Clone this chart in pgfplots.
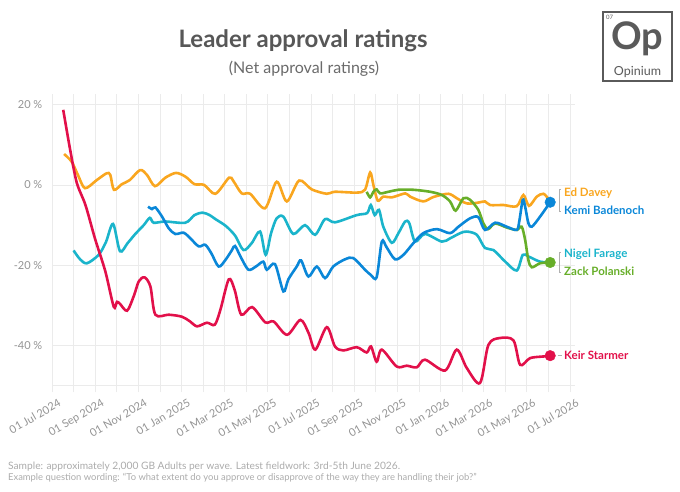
\documentclass[border=0pt]{standalone}
\usepackage{fontspec}
\setmainfont{Lato}
\usepackage{pgfplots}
\pgfplotsset{compat=1.18}
\definecolor{starmer}{HTML}{E2104A}
\definecolor{davey}{HTML}{F9A61F}
\definecolor{badenoch}{HTML}{0A87D8}
\definecolor{farage}{HTML}{1AB4CB}
\definecolor{polanski}{HTML}{67AE29}
\definecolor{gridc}{HTML}{EBEBEB}
\definecolor{tickc}{HTML}{939393}
\definecolor{titlec}{HTML}{575757}
\definecolor{subc}{HTML}{6A6A6A}
\definecolor{footc}{HTML}{ABABAB}
\definecolor{logoc}{HTML}{5A5A5A}
\definecolor{brc}{HTML}{B0B0B0}
\begin{document}
\begin{tikzpicture}[x=1pt,y=1pt]
\begin{axis}[
  at={(52pt,106.2pt)}, anchor=south west,
  scale only axis, width=523pt, height=285.2pt,
  xmin=0, xmax=24.23, ymin=-50, ymax=21,
  axis line style={draw=none},
  xtick={0,2,...,24}, minor xtick={1,3,...,23},
  xticklabels={01 Jul 2024,01 Sep 2024,01 Nov 2024,01 Jan 2025,01 Mar 2025,01 May 2025,01 Jul 2025,01 Sep 2025,01 Nov 2025,01 Jan 2026,01 Mar 2026,01 May 2026,01 Jul 2026},
  ytick={-50,-40,-20,0,20}, yticklabels={,-40 \%,-20 \%,0 \%,20 \%},
  xmajorgrids, xminorgrids, ymajorgrids,
  major grid style={gridc, line width=0.8pt},
  minor grid style={gridc, line width=0.8pt},
  tick align=outside, major tick length=6.5pt, minor tick length=6.5pt,
  xtick style={gridc, line width=0.8pt},
  ytick style={draw=none},
  xticklabel style={rotate=30, anchor=north east, font=\fontsize{11}{13}\selectfont, text=tickc, inner sep=1pt, xshift=3pt, yshift=-7pt},
  yticklabel style={anchor=east, font=\fontsize{11}{13}\selectfont, text=tickc, inner sep=1pt, xshift=-2pt},
  clip=false,
]
% Ed Davey
\addplot[davey, line width=2.6pt, smooth] coordinates {
(0.56,7.7) (0.91,5.8) (1.2,2.5) (1.53,-0.8) (2.07,1.2) (2.53,2.9) (2.7,2.5) (2.87,-1.2) (3.24,0.2) (3.6,1.2) (4.08,3.7) (4.4,2.5) (4.77,-0.3) (5.25,1.8) (5.75,3.0) (6.2,2.0) (6.6,0.2) (7.05,0) (7.57,-2.2) (8.2,1.8) (8.4,1.0) (8.79,-2.1) (9.18,-2.2) (9.87,-5.8) (10.41,0.8) (10.88,-4.1) (11.45,1.1) (12.03,-1.1) (12.73,-2.2) (13.11,-1.7) (14.12,-1.9) (14.5,-1.2) (14.74,3.1) (14.89,0) (15.09,-3.9) (15.35,-2.9) (15.74,-3.1) (16.36,-2.1) (16.59,-2.9) (17.2,-4.1) (17.67,-3.0) (18.36,-2.2) (18.75,-3.3) (19.22,-4.6) (19.75,-4.4) (20.06,-4.1) (20.3,-5.0) (20.92,-5.0) (21.53,-5.3) (21.84,-2.5) (22.1,-5.2) (22.46,-2.9) (22.77,-2.2) (23.0,-3.5)
};
% Nigel Farage
\addplot[farage, line width=2.6pt, smooth] coordinates {
(1.0,-16.3) (1.3,-18.5) (1.62,-19.5) (2.16,-17.4) (2.5,-14.2) (2.83,-9.7) (3.15,-16.5) (3.5,-14.5) (3.86,-12.2) (4.25,-10.0) (4.53,-8.2) (4.71,-9.4) (5.25,-9.1) (6.18,-9.4) (6.6,-7.5) (6.98,-6.9) (7.3,-7.5) (7.57,-8.5) (8.05,-10.2) (8.48,-12.6) (8.87,-16.2) (9.25,-14.5) (9.64,-11.6) (9.9,-17.4) (10.15,-12.0) (10.41,-8.3) (10.72,-7.9) (11.18,-12.2) (11.72,-10.0) (12.19,-12.4) (12.65,-8.5) (13.11,-9.3) (14.12,-7.5) (14.6,-7.0) (14.77,-5.0) (14.95,-7.5) (15.15,-6.2) (15.35,-10.4) (15.74,-14.4) (16.05,-12.0) (16.36,-9.1) (16.55,-9.5) (16.82,-14.1) (17.28,-12.2) (18.06,-14.1) (18.44,-13.3) (18.91,-12.0) (19.22,-11.6) (19.68,-12.4) (20.06,-15.7) (20.45,-16.2) (21.0,-19.1) (21.53,-21.3) (21.81,-17.4) (22.07,-17.8) (22.61,-19.1) (23.08,-19.2)
};
% Keir Starmer
\addplot[starmer, line width=2.6pt, smooth] coordinates {
(0.52,18.7) (0.85,8.5) (1.15,0.5) (1.55,-5.0) (2.0,-13.5) (2.47,-21.5) (2.86,-30.3) (3.01,-29.1) (3.15,-29.6) (3.48,-31.3) (3.8,-27.5) (4.02,-24.0) (4.29,-23.0) (4.56,-25.3) (4.79,-32.3) (5.41,-32.3) (6.02,-32.8) (6.4,-34.0) (6.72,-35.2) (7.18,-34.3) (7.54,-34.8) (7.8,-31.1) (8.19,-23.5) (8.46,-26.1) (8.77,-32.3) (9.27,-30.4) (9.88,-34.2) (10.27,-34.0) (10.89,-37.3) (11.51,-33.6) (11.89,-36.9) (12.2,-41.0) (12.73,-35.4) (13.11,-40.2) (13.5,-41.2) (14.12,-40.4) (14.58,-41.7) (14.78,-40.2) (15.04,-44.0) (15.28,-41.0) (15.97,-45.2) (16.44,-45.0) (16.9,-45.4) (17.28,-43.5) (18.21,-46.2) (18.75,-41.0) (19.22,-45.6) (19.83,-49.3) (20.22,-39.8) (20.76,-38.1) (21.38,-38.7) (21.69,-44.8) (22.15,-43.1) (22.77,-42.7) (23.08,-42.5)
};
% Zack Polanski
\addplot[polanski, line width=2.6pt, smooth] coordinates {
(14.58,-1.7) (14.74,-3.1) (14.89,-1.7) (15.04,-1.1) (15.2,-2.1) (15.59,-1.7) (16.05,-1.2) (16.74,-1.2) (17.52,-1.7) (18.06,-2.5) (18.44,-4.1) (18.7,-6.4) (19.06,-3.3) (19.37,-3.7) (19.75,-6.2) (19.98,-9.5) (20.2,-11.0) (20.53,-9.6) (21.07,-10.6) (21.53,-11.2) (21.76,-10.4) (21.92,-13.7) (22.07,-18.7) (22.23,-20.5) (22.61,-19.5) (23.08,-19.3)
};
% Kemi Badenoch
\addplot[badenoch, line width=2.6pt, smooth] coordinates {
(4.45,-5.4) (4.63,-6.0) (4.79,-5.6) (5.1,-7.9) (5.41,-10.8) (5.71,-12.2) (6.1,-11.9) (6.41,-13.3) (6.8,-15.3) (7.1,-14.9) (7.38,-17.0) (7.72,-20.3) (8.03,-18.7) (8.34,-16.2) (8.48,-15.2) (8.75,-18.0) (9.1,-21.1) (9.45,-20.3) (9.79,-19.1) (9.95,-21.1) (10.33,-19.7) (10.72,-26.5) (10.95,-23.5) (11.34,-20.3) (11.54,-18.8) (11.88,-22.8) (12.27,-20.3) (12.65,-23.2) (13.03,-20.3) (13.58,-18.5) (13.96,-18.2) (14.5,-21.1) (14.77,-22.4) (15.04,-23.0) (15.28,-14.1) (15.5,-15.5) (15.89,-18.5) (16.28,-17.4) (16.74,-14.5) (17.2,-12.0) (17.83,-11.0) (18.44,-12.0) (18.83,-10.4) (19.37,-8.3) (19.75,-8.0) (20.06,-11.2) (20.53,-9.4) (21.07,-10.4) (21.53,-11.2) (21.65,-9.0) (21.81,-3.7) (21.92,-5.4) (22.07,-9.5) (22.23,-10.4) (22.61,-7.9) (23.08,-4.3)
};
% end dots
\addplot[only marks, mark=*, mark size=5.3pt, badenoch] coordinates {(23.08,-4.3)};
\addplot[only marks, mark=*, mark size=5.3pt, polanski] coordinates {(23.08,-19.3)};
\addplot[only marks, mark=*, mark size=5.3pt, starmer] coordinates {(23.08,-42.5)};
\end{axis}
% title
\node[font=\fontsize{24}{28}\selectfont\bfseries, text=titlec] at (303,451) {Leader approval ratings};
\node[font=\fontsize{16}{19}\selectfont, text=subc] at (304,423) {(Net approval ratings)};
% logo
\draw[logoc, line width=1.6pt] (603,480) rectangle (672,411);
\node[font=\fontsize{6}{7}\selectfont, text=logoc, anchor=north west, inner sep=0] at (606,477) {07};
\node[font=\fontsize{38}{40}\selectfont\bfseries, text=logoc] at (637.5,453) {Op};
\node[font=\fontsize{12.5}{14}\selectfont, text=logoc] at (637.5,420) {Opinium};
% right labels
\begin{scope}[every node/.style={anchor=west, inner sep=0, font=\fontsize{11.5}{13}\selectfont\bfseries}]
\node[text=davey] at (564,298.5) {Ed Davey};
\node[text=badenoch] at (564,281.5) {Kemi Badenoch};
\node[text=farage] at (564,238) {Nigel Farage};
\node[text=polanski] at (564,221) {Zack Polanski};
\node[text=starmer] at (564,136.5) {Keir Starmer};
\end{scope}
\draw[brc, line width=0.7pt] (561,302.5)--(559,302.5)--(559,281)--(561,281);
\draw[brc, line width=0.7pt] (561,239.5)--(559,239.5)--(559,219.5)--(561,219.5);
\draw[brc, line width=0.7pt] (557.5,136.5)--(561.5,136.5);
% footer
\node[anchor=west, inner sep=0, font=\fontsize{10.2}{12}\selectfont, text=footc] at (8,25) {Sample: approximately 2,000 GB Adults per wave. Latest fieldwork: 3rd-5th June 2026.};
\node[anchor=west, inner sep=0, font=\fontsize{9.4}{11}\selectfont, text=footc] at (8,14) {Example question wording: “To what extent do you approve or disapprove of the way they are handling their job?”};
\pgfresetboundingbox
\path[use as bounding box] (0,0) rectangle (680,492);
\end{tikzpicture}
\end{document}
